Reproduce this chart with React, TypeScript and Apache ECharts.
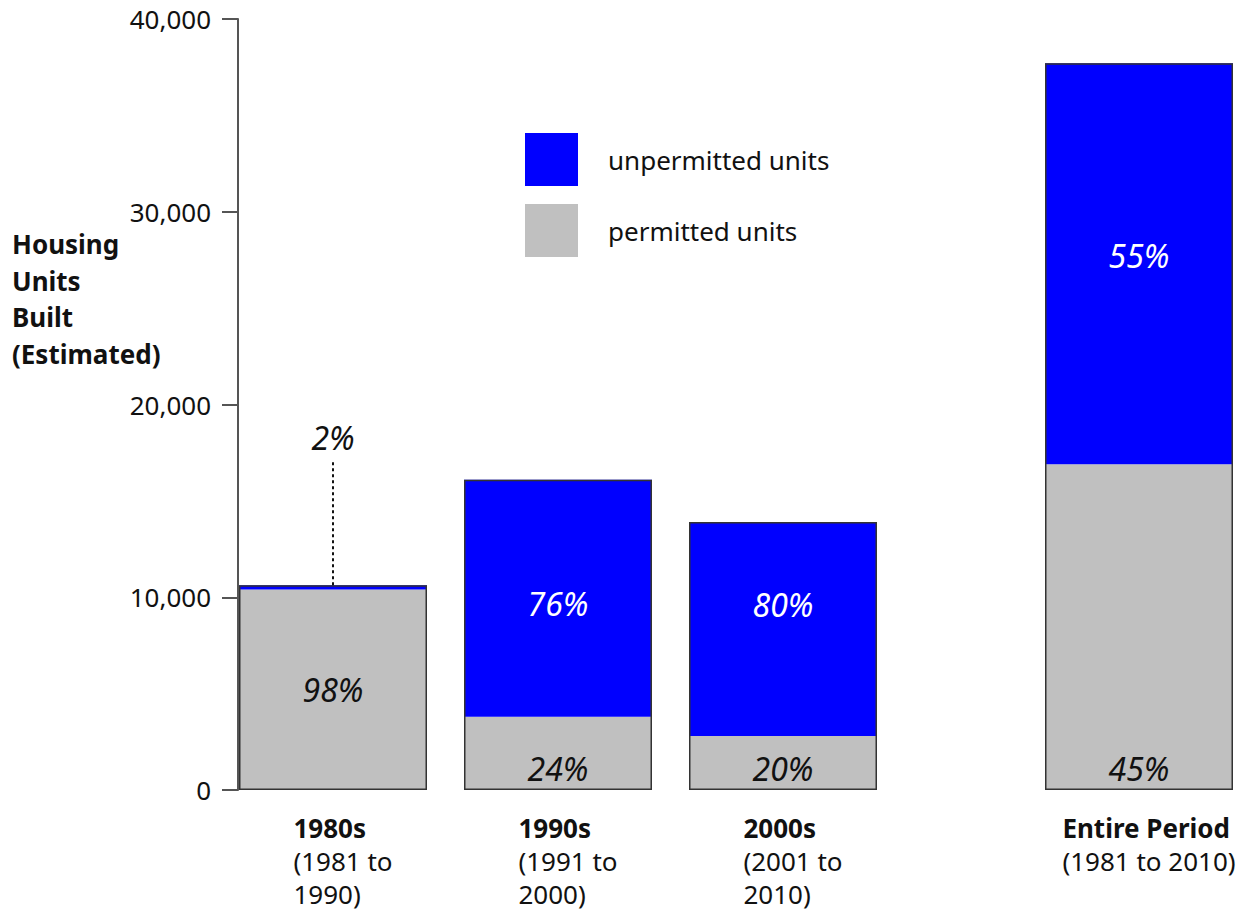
import React, { useEffect, useRef } from "react";
import * as echarts from "echarts";

// ---- data ----
const categories = ["1980s", "1990s", "2000s", "Entire Period"];
const subLabels = [["(1981 to", "1990)"], ["(1991 to", "2000)"], ["(2001 to", "2010)"], ["(1981 to 2010)"]];
const permitted = [10400, 3800, 2800, 16900];
const unpermitted = [220, 12300, 11100, 20800];
const permittedPct = ["98%", "24%", "20%", "45%"];
const unpermittedPct = ["2%", "76%", "80%", "55%"];
const yTicks = { min: 0, max: 40000, interval: 10000 };
const calloutTop = 17050; // top of the 2% callout leader line
const decadeCount = 3; // first three bars are decades, the last one the whole period

// ---- styles ----
const FONT = "Noto Sans";
const BLUE = "#0000ff";
const GRAY = "#c0c0c0";
const permittedLabelPos = ["inside", "insideBottom", "insideBottom", "insideBottom"];
const unpermittedLabelOffset = [[0, 0], [0, 5], [0, -25], [0, -8]];
const BAR_W = 188;

export default function App() {
  const ref = useRef<HTMLDivElement>(null);
  useEffect(() => {
    if (!ref.current) return;
    const chart = echarts.init(ref.current, undefined, { renderer: "svg" });
    const pctLabel = (color: string) => ({
      fontFamily: FONT,
      fontSize: 32,
      fontStyle: "italic",
      color,
    });
    const richLabel = (offsetIndex: number) => ({
      margin: 21,
      padding: [0, 0, 0, 20],
      interval: 0,
      formatter: (_v: string, i: number) => {
        const k = i + offsetIndex;
        return [`{b|${categories[k]}}`, ...subLabels[k].map((s) => `{n|${s}}`)].join("\n");
      },
      rich: {
        b: { fontFamily: FONT, fontSize: 26, fontWeight: "bold", color: "#111", lineHeight: 33, align: "left" },
        n: { fontFamily: FONT, fontSize: 26, color: "#111", lineHeight: 33, align: "left" },
      },
    });
    const groups = [
      { idx: 0, from: 0, to: decadeCount },
      { idx: 1, from: decadeCount, to: categories.length },
    ];
    const series: any[] = [];
    groups.forEach((g) => {
      const ids = categories.slice(g.from, g.to).map((_, j) => g.from + j);
      series.push({
        name: "permitted units",
        type: "bar",
        stack: "units" + g.idx,
        xAxisIndex: g.idx,
        yAxisIndex: g.idx,
        barWidth: BAR_W,
        barGap: "-100%",
        itemStyle: { color: GRAY, borderWidth: 0 },
        data: ids.map((i) => ({
          value: permitted[i],
          label: {
            show: true,
            position: permittedLabelPos[i],
            distance: 6,
            formatter: permittedPct[i],
            ...pctLabel("#111"),
          },
        })),
      });
      const uSeries: any = {
        name: "unpermitted units",
        type: "bar",
        stack: "units" + g.idx,
        xAxisIndex: g.idx,
        yAxisIndex: g.idx,
        barWidth: BAR_W,
        barGap: "-100%",
        itemStyle: { color: BLUE, borderWidth: 0 },
        data: ids.map((i) => ({
          value: unpermitted[i],
          label: {
            show: i !== 0,
            position: "inside",
            offset: unpermittedLabelOffset[i],
            formatter: unpermittedPct[i],
            ...pctLabel("#ffffff"),
          },
        })),
      };
      if (g.idx === 0) {
        uSeries.markLine = {
          silent: true,
          symbol: "none",
          lineStyle: { color: "#111", type: [3, 3], width: 2 },
          label: {
            show: true,
            position: "end",
            distance: 8,
            formatter: unpermittedPct[0],
            ...pctLabel("#111"),
          },
          data: [
            [
              { coord: [0, permitted[0] + unpermitted[0]] },
              { coord: [0, calloutTop] },
            ],
          ],
        };
      }
      series.push(uSeries);
      series.push({
        name: "outline",
        type: "bar",
        xAxisIndex: g.idx,
        yAxisIndex: g.idx,
        barWidth: BAR_W,
        barGap: "-100%",
        silent: true,
        z: 3,
        itemStyle: { color: "rgba(0,0,0,0)", borderColor: "#333", borderWidth: 1.5 },
        data: ids.map((i) => permitted[i] + unpermitted[i]),
      });
    });

    const option: any = {
      animation: false,
      backgroundColor: "#ffffff",
      title: {
        text: "Housing\nUnits\nBuilt\n(Estimated)",
        left: 12,
        top: 226,
        padding: 0,
        textStyle: { fontFamily: FONT, fontSize: 26, fontWeight: "bold", color: "#111", lineHeight: 36.5 },
      },
      legend: {
        orient: "vertical",
        left: 525,
        top: 133,
        padding: 0,
        itemWidth: 53,
        itemHeight: 53,
        itemGap: 18,
        icon: "rect",
        selectedMode: false,
        data: ["unpermitted units", "permitted units"],
        itemStyle: { borderWidth: 0 },
        textStyle: { fontFamily: FONT, fontSize: 26, color: "#111", padding: [0, 0, 0, 25] },
      },
      grid: [
        { left: 220.5, top: 19, bottom: 121, width: 675 },
        { left: 1039, top: 19, bottom: 121, width: 200 },
      ],
      xAxis: groups.map((g) => ({
        type: "category",
        gridIndex: g.idx,
        data: categories.slice(g.from, g.to),
        axisLine: { show: false },
        axisTick: { show: false },
        axisLabel: richLabel(g.from),
      })),
      yAxis: groups.map((g) => ({
        type: "value",
        gridIndex: g.idx,
        show: g.idx === 0,
        offset: g.idx === 0 ? -17.5 : 0,
        min: yTicks.min,
        max: yTicks.max,
        interval: yTicks.interval,
        splitLine: { show: false },
        axisLine: { show: true, onZero: false, lineStyle: { color: "#555", width: 2 } },
        axisTick: { show: true, length: 16, lineStyle: { color: "#555", width: 2 } },
        axisLabel: {
          margin: 27,
          fontFamily: FONT,
          fontSize: 26,
          color: "#111",
          formatter: (v: number) => v.toLocaleString("en-US"),
        },
      })),
      series,
    };
    chart.setOption(option);
    return () => chart.dispose();
  }, []);
  return (
    <div
      ref={ref}
      style={{ position: "fixed", left: 0, top: 0, width: 1242, height: 911, background: "#fff" }}
    />
  );
}
